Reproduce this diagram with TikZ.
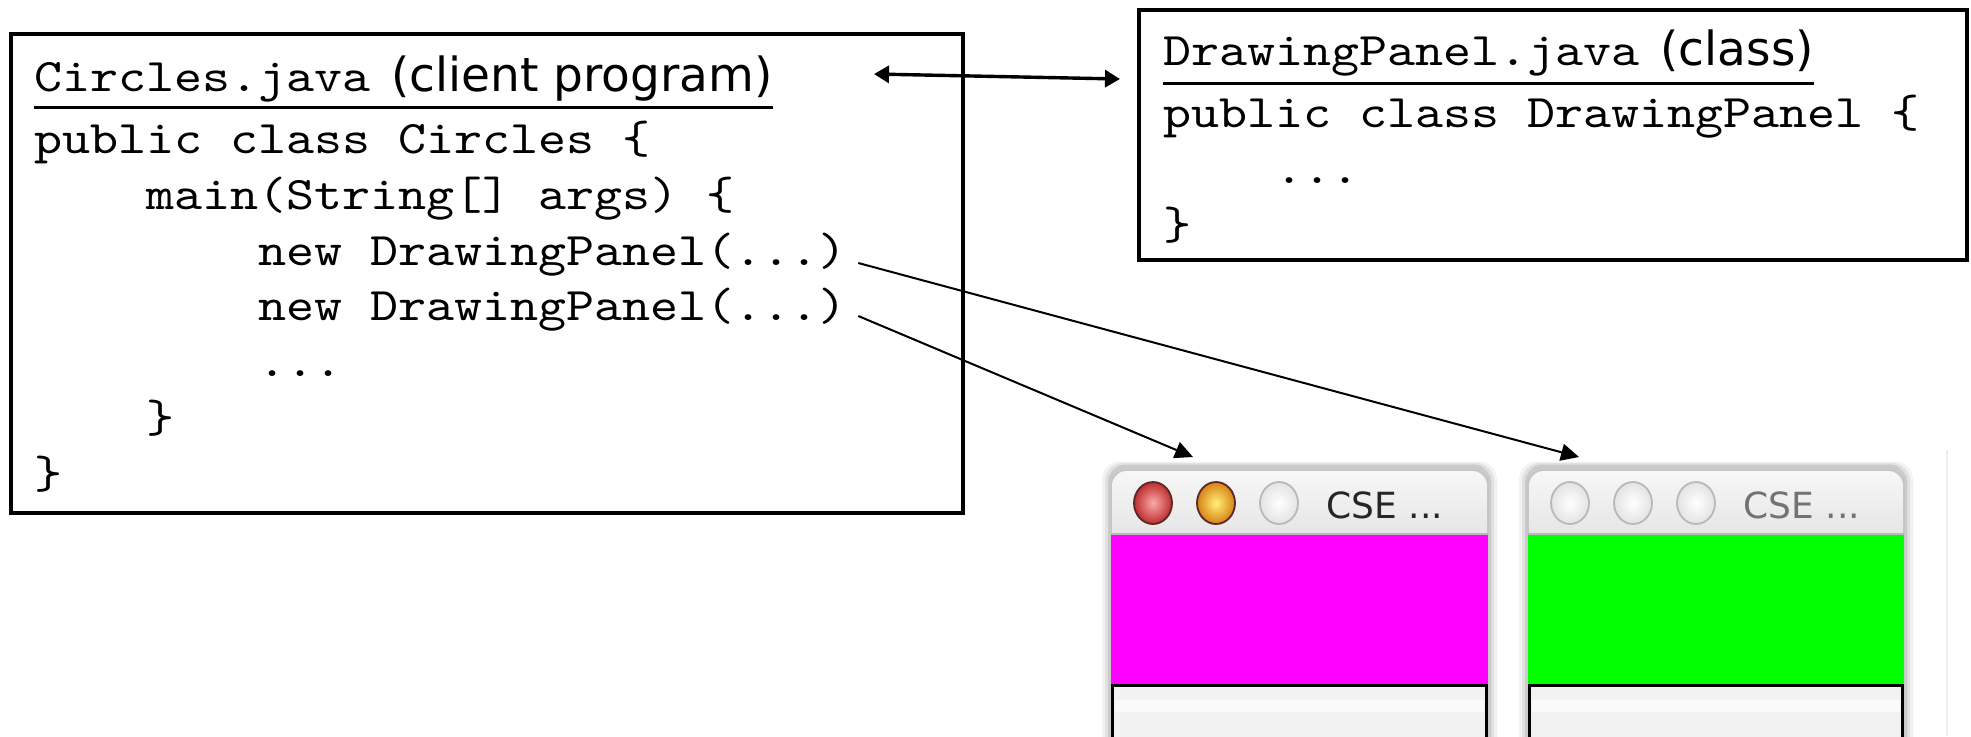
\documentclass[tikz,border=0pt]{standalone}
\usepackage{fontspec}
\newfontfamily\labelfont{DejaVu Sans}
% Typewriter face widened to the 0.6em advance of a Courier-style font
\newfontfamily\codefont{lmmono10-regular.otf}[FakeStretch=1.143]
\usetikzlibrary{arrows.meta,calc}

% One Mac-style window: #1 = left x, #2 = width, #3 = content colour,
% #4/#5 = first button (inner, outer), #6 = button rim, #7 = title colour,
% #8/#9 = second button (inner, outer)
\newcommand\drawmacwindow[9]{%
  % soft drop shadow
  \foreach \s/\o in {9/0.05,6/0.07,3/0.10}{
    \fill[black,opacity=\o,rounded corners=9pt] (#1-\s,466-\s/2) rectangle (#1+#2+\s,760);
  }
  % title bar
  \shade[top color=gray!6,bottom color=gray!20]
    (#1,534) [rounded corners=8pt]-- (#1,470) -- (#1+#2,470) [sharp corners]-- (#1+#2,534) -- cycle;
  \draw[gray!45,line width=0.8pt]
    (#1,534) [rounded corners=8pt]-- (#1,470) -- (#1+#2,470) [sharp corners]-- (#1+#2,534);
  \draw[gray!55,line width=1.2pt] (#1,534) -- (#1+#2,534);
  % buttons
  \shade[inner color=#4,outer color=#5,draw=#6,line width=0.9pt]
    (#1+42,503) ellipse [x radius=9.5pt,y radius=10.5pt];
  \shade[inner color=#8,outer color=#9,draw=#6,line width=0.9pt]
    (#1+105,503) ellipse [x radius=9.5pt,y radius=10.5pt];
  \shade[inner color=white,outer color=gray!22,draw=gray!55,line width=0.9pt]
    (#1+168,503) ellipse [x radius=9.5pt,y radius=10.5pt];
  \node[wintitle,text=#7] at (#1+215,518) {CSE ...};
  % content area and status box
  \fill[#3] (#1,535) rectangle (#1+#2,684);
  \draw[line width=1.6pt,fill=gray!10] (#1+1.6,685.6) rectangle (#1+#2-1.6,760);
  \fill[gray!4] (#1+4,700) rectangle (#1+#2-4,712);
}

\definecolor{panelmagenta}{RGB}{255,0,255}
\definecolor{panelgreen}{RGB}{0,255,0}
\definecolor{btnred}{RGB}{250,170,170}
\definecolor{btnredout}{RGB}{190,45,45}
\definecolor{btnrim}{RGB}{90,40,40}
\definecolor{btnorange}{RGB}{255,240,120}
\definecolor{btnorangeout}{RGB}{215,130,20}

\begin{document}
\begin{tikzpicture}[x=0.5pt,y=-0.5pt,
  code/.style={anchor=base west,inner sep=0pt,
    font=\codefont\fontsize{23.35pt}{28pt}\selectfont},
  sans/.style={anchor=base west,inner sep=0pt,
    font=\labelfont\fontsize{23.5pt}{28pt}\selectfont},
  wintitle/.style={anchor=base west,inner sep=0pt,
    font=\labelfont\fontsize{18pt}{22pt}\selectfont},
  frame/.style={draw,line width=2pt,inner sep=0pt},
  uline/.style={line width=1.5pt},
  call/.style={line width=1pt,-{Triangle[length=9pt,width=8.5pt]}},
  both/.style={line width=1.7pt,{Triangle[length=7.5pt,width=8.5pt]}-{Triangle[length=7.5pt,width=8.5pt]}}]

\useasboundingbox (0,0) rectangle (1971,736);

% ---- client program box ----
\node[frame,minimum width=476pt,minimum height=239.5pt] (client) at (487,273.5) {};
\node[code] (ct) at (34,91) {Circles.java};
\node[sans] (ctx) at ([xshift=10pt]ct.base east) {(client program)};
\draw[uline] ([yshift=-8]ct.base west) -- ([yshift=-8]ctx.base east);
\node[code] (c1) at (34,153) {public class Circles \{};
\node[code] (c2) at (146,209) {main(String[] args) \{};
\node[code] (c3) at (258,265) {new DrawingPanel(...)};
\node[code] (c4) at (258,320) {new DrawingPanel(...)};
\node[code] (c5) at (258,376) {...};
\node[code] (c6) at (146,432) {\}};
\node[code] (c7) at (34,488) {\}};

% ---- class box ----
\node[frame,minimum width=414pt,minimum height=125pt] (panel) at (1553,135) {};
\node[code] (pt) at (1163,65) {DrawingPanel.java};
\node[sans] (ptx) at ([xshift=10pt]pt.base east) {(class)};
\draw[uline] ([yshift=-9]pt.base west) -- ([yshift=-9]ptx.base east);
\node[code] (p1) at (1163,127) {public class DrawingPanel \{};
\node[code] (p2) at (1275,183) {...};
\node[code] (p3) at (1163,239) {\}};

% ---- windows ----
\begin{scope}
  \clip (1000,380) rectangle (1971,736);
  \draw[gray!14,line width=1pt] (1947,450) -- (1947,736);
  \drawmacwindow{1111}{377}{panelmagenta}{btnred}{btnredout}{btnrim}{black!85}{btnorange}{btnorangeout}
  \drawmacwindow{1528}{376}{panelgreen}{white}{gray!22}{gray!55}{black!55}{white}{gray!22}
\end{scope}

% ---- connectors ----
\coordinate (linkL) at (874,74);
\coordinate (linkR) at (1120,79);
\coordinate (win1) at (1193,457);
\coordinate (win2) at (1579,457);
\draw[both] (linkL) -- (linkR);
\draw[call] ([shift={(11,-2)}]c3.base east) -- (win2);
\draw[call] ([shift={(11,-4)}]c4.base east) -- (win1);
\end{tikzpicture}
\end{document}
